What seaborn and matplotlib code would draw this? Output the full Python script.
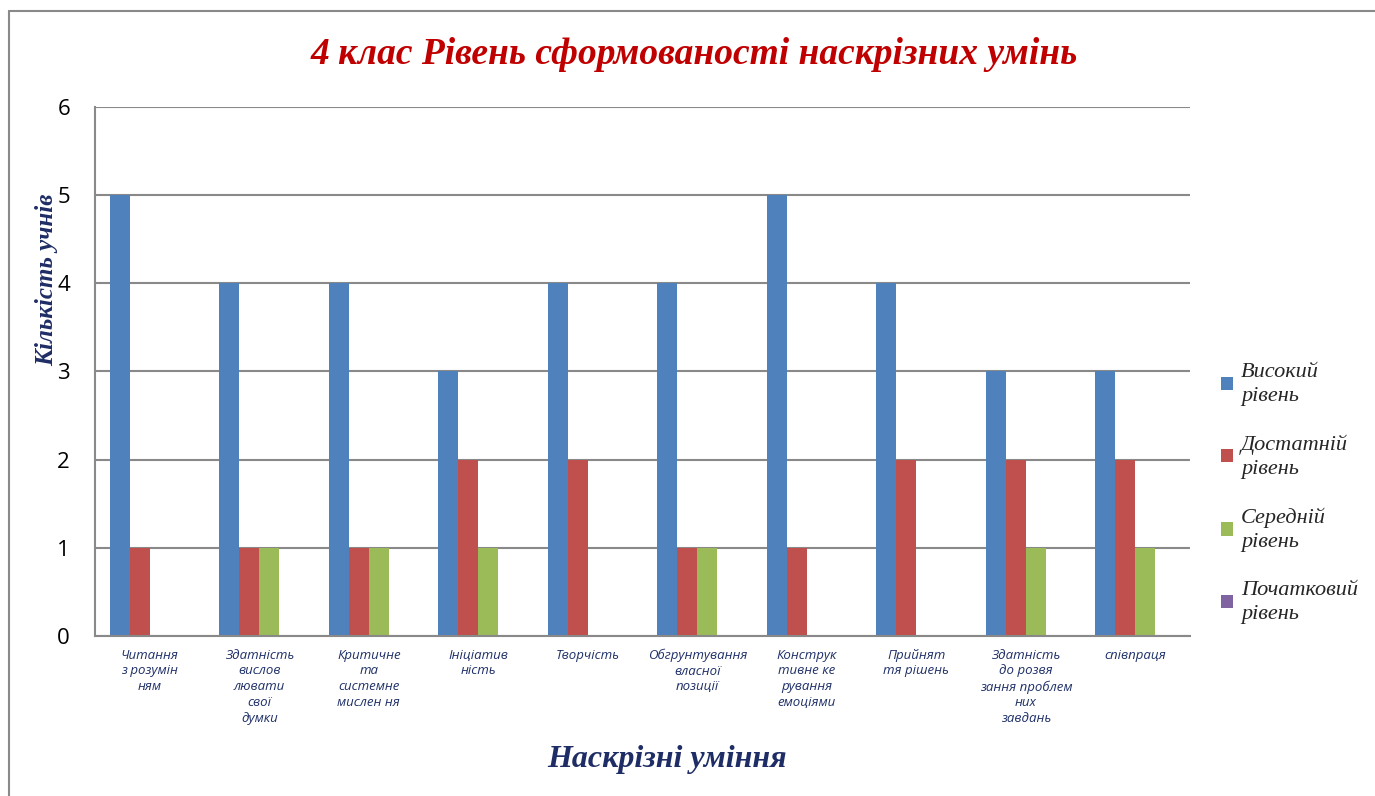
import seaborn as sns
import matplotlib.pyplot as plt
import pandas as pd
from matplotlib.lines import Line2D

skills = [
    "Читання\nз розумін\nням",
    "Здатність\nвислов\nлювати\nсвої\nдумки",
    "Критичне\nта\nсистемне\nмислен ня",
    "Ініціатив\nність",
    "Творчість",
    "Обгрунтування\nвласної\nпозиції",
    "Конструк\nтивне ке\nрування\nемоціями",
    "Прийнят\nтя рішень",
    "Здатність\nдо розвя\nзання проблем\nних\nзавдань",
    "співпраця",
]
levels = ["Високий\nрівень", "Достатній\nрівень", "Середній\nрівень", "Початковий\nрівень"]
high = [5, 4, 4, 3, 4, 4, 5, 4, 3, 3]
sufficient = [1, 1, 1, 2, 2, 1, 1, 2, 2, 2]
medium = [0, 1, 1, 1, 0, 1, 0, 0, 1, 1]
initial = [0, 0, 0, 0, 0, 0, 0, 0, 0, 0]

rows = []
for lvl, vals in zip(levels, [high, sufficient, medium, initial]):
    for s, v in zip(skills, vals):
        rows.append({"skill": s, "level": lvl, "count": v})
df = pd.DataFrame(rows)

sns.set_style("white")
plt.rcParams["font.family"] = ["Open Sans", "DejaVu Sans"]
pal = ["#4F81BD", "#C0504D", "#9BBB59", "#8064A2"]

fig = plt.figure(figsize=(13.75, 7.96), dpi=100)
ax = fig.add_axes([0.0691, 0.201, 0.7964, 0.6646])
sns.barplot(data=df, x="skill", y="count", hue="level", palette=pal,
            width=0.73, gap=0, ax=ax, saturation=1, legend=True, linewidth=0)

ax.set_ylim(0, 6)
ax.set_yticks(range(7))
ax.yaxis.grid(True, color="#898989", lw=1.5)
ax.set_axisbelow(True)
for s in ["top", "right"]:
    ax.spines[s].set_visible(False)
for s in ["left", "bottom"]:
    ax.spines[s].set_color("#898989")
    ax.spines[s].set_linewidth(1.5)
ax.tick_params(axis="y", length=8, color="#898989", width=1.5, labelsize=16,
               pad=10, labelcolor="black")
ax.tick_params(axis="x", length=0, pad=9)
for lab in ax.get_xticklabels():
    lab.set_fontsize(9.5)
    lab.set_style("italic")
    lab.set_color("#1F3068")
    lab.set_linespacing(1.28)
    lab.set_verticalalignment("top")

ax.set_xlabel("Наскрізні уміння", family="Liberation Serif", fontsize=23,
              fontweight="bold", style="italic", color="#1F2D66")
ax.xaxis.set_label_coords(0.522, -0.206)
ax.set_ylabel("Кількість учнів", family="Liberation Serif", fontsize=18,
              fontweight="bold", style="italic", color="#1F2D66")
ax.yaxis.set_label_coords(-0.034, 0.673)
fig.text(0.505, 0.931, "4 клас Рівень сформованості наскрізних умінь",
         family="Liberation Serif", fontsize=27, fontweight="bold",
         style="italic", color="#C00000", ha="center", va="center")

leg = ax.legend(loc="center left", bbox_to_anchor=(1.01, 0.27), frameon=False,
                prop={"family": "Liberation Serif", "style": "italic", "size": 16},
                handlelength=0.55, handleheight=0.55, handletextpad=0.35,
                labelspacing=1.3)
for t in leg.get_texts():
    t.set_linespacing(1.35)

# outer chart border (left/top edges visible)
fig.add_artist(Line2D([9 / 1375, 9 / 1375], [0, 1 - 11 / 796], color="#898989",
                      lw=1.5, transform=fig.transFigure))
fig.add_artist(Line2D([9 / 1375, 1], [1 - 11 / 796, 1 - 11 / 796], color="#898989",
                      lw=1.5, transform=fig.transFigure))

fig.savefig("out.png", dpi=100)
